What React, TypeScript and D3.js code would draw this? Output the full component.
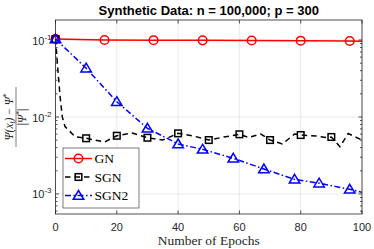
import React, { useEffect, useRef } from 'react';
import * as d3 from 'd3';

// GN: solid red, circle markers
const gnEpochs = [0, 16, 32, 48, 64, 80, 96, 100];
const gnValues = [0.103, 0.1, 0.0995, 0.099, 0.0985, 0.098, 0.097, 0.0965];
const gnMarkers = [0, 16, 32, 48, 64, 80, 96];

// SGN: dashed black, square markers
const sgnEpochs = [0, 0.6, 1.5, 2.2, 3.1, 6.4, 10, 16, 20, 25, 30, 35, 40, 45, 50, 55, 60, 63, 67, 70, 74, 78, 80, 85, 89, 90, 92.8, 95.5, 100];
const sgnValues = [0.103, 0.0502, 0.0184, 0.0101, 0.0075, 0.00554, 0.00529, 0.00473, 0.00571, 0.00619, 0.00538, 0.00502, 0.00613, 0.00566, 0.00502, 0.0055, 0.00596, 0.00542, 0.00601, 0.00502, 0.00446, 0.00601, 0.00583, 0.00566, 0.00538, 0.0055, 0.00411, 0.0061, 0.00502];
const sgnMarkers = [0, 10, 20, 30, 40, 50, 60, 70, 80, 90];

// SGN2: dash-dot blue, triangle markers
const sgn2Epochs = [0, 10, 20, 30, 40, 48, 58, 68, 78, 86, 96, 100];
const sgn2Values = [0.103, 0.043, 0.0158, 0.00713, 0.00446, 0.0038, 0.00291, 0.00211, 0.00155, 0.00138, 0.00115, 0.00105];
const sgn2Markers = [0, 10, 20, 30, 40, 48, 58, 68, 78, 86, 96];

const xTicks = [0, 20, 40, 60, 80, 100];
const yTickExps = [-1, -2, -3];
const legendLabels = ['GN', 'SGN', 'SGN2'];

const App: React.FC = () => {
  const svgRef = useRef<SVGSVGElement>(null);

  useEffect(() => {
    if (!svgRef.current) return;
    const svg = d3.select(svgRef.current);
    svg.selectAll('*').remove();

    const width = 374;
    const height = 249;
    const plot = { left: 55.5, right: 362, top: 20, bottom: 214 };
    const axisColor = '#262626';

    const x = d3.scaleLinear().domain([0, 100]).range([plot.left, plot.right]);
    const y = d3.scaleLog().domain([Math.pow(10, -3.26), Math.pow(10, -0.74)]).range([plot.bottom, plot.top]);

    svg.attr('width', width).attr('height', height);
    svg.append('rect').attr('width', width).attr('height', height).attr('fill', '#fff');

    // Grid
    const grid = svg.append('g').attr('stroke', '#e4e4e4').attr('stroke-width', 0.8);
    xTicks.forEach(t => {
      grid.append('line').attr('x1', x(t)).attr('x2', x(t)).attr('y1', plot.top).attr('y2', plot.bottom);
    });
    yTickExps.forEach(e => {
      grid.append('line').attr('x1', plot.left).attr('x2', plot.right).attr('y1', y(Math.pow(10, e))).attr('y2', y(Math.pow(10, e)));
    });

    // Ticks (inside, both sides)
    const ticks = svg.append('g').attr('stroke', axisColor).attr('stroke-width', 0.8);
    xTicks.forEach(t => {
      ticks.append('line').attr('x1', x(t)).attr('x2', x(t)).attr('y1', plot.bottom).attr('y2', plot.bottom - 3.5);
      ticks.append('line').attr('x1', x(t)).attr('x2', x(t)).attr('y1', plot.top).attr('y2', plot.top + 3.5);
    });
    for (let e = -4; e <= -1; e++) {
      for (let m = 1; m <= 9; m++) {
        const v = m * Math.pow(10, e);
        const [d0, d1] = y.domain();
        if (v < d0 || v > d1) continue;
        const len = m === 1 ? 3.5 : 2;
        ticks.append('line').attr('x1', plot.left).attr('x2', plot.left + len).attr('y1', y(v)).attr('y2', y(v));
        ticks.append('line').attr('x1', plot.right).attr('x2', plot.right - len).attr('y1', y(v)).attr('y2', y(v));
      }
    }

    // Tick labels
    const sans = 'Liberation Sans, Arial, sans-serif';
    const serif = 'Liberation Serif, Times New Roman, serif';
    xTicks.forEach(t => {
      svg.append('text')
        .attr('x', x(t)).attr('y', plot.bottom + 16.5)
        .attr('text-anchor', 'middle')
        .attr('font-family', sans).attr('font-size', 11).attr('fill', axisColor)
        .text(t);
    });
    yTickExps.forEach(e => {
      const txt = svg.append('text')
        .attr('x', plot.left - 4).attr('y', y(Math.pow(10, e)) + 4.5)
        .attr('text-anchor', 'end')
        .attr('font-family', sans).attr('font-size', 11).attr('fill', axisColor);
      txt.append('tspan').text('10');
      txt.append('tspan').attr('dy', -5).attr('font-size', 8).text(String(e));
    });

    // Lines
    const line = d3.line<[number, number]>()
      .x(d => x(d[0]))
      .y(d => y(d[1]));
    const plotArea = svg.append('g');

    const drawTriangle = (g: any, cx: number, cy: number, color: string) => {
      const s = 5;
      g.append('path')
        .attr('d', `M${cx},${cy - s} L${cx + s * 1.05},${cy + s * 0.75} L${cx - s * 1.05},${cy + s * 0.75} Z`)
        .attr('fill', 'none').attr('stroke', color).attr('stroke-width', 1.5);
    };
    const drawSquare = (g: any, cx: number, cy: number, color: string) => {
      g.append('rect').attr('x', cx - 3.3).attr('y', cy - 3.3).attr('width', 6.6).attr('height', 6.6)
        .attr('fill', 'none').attr('stroke', color).attr('stroke-width', 1.5);
    };
    const drawCircle = (g: any, cx: number, cy: number, color: string) => {
      g.append('circle').attr('cx', cx).attr('cy', cy).attr('r', 4.3)
        .attr('fill', 'none').attr('stroke', color).attr('stroke-width', 1.5);
    };

    const series = [
      { xs: gnEpochs, vs: gnValues, marks: gnMarkers, color: '#ff0000', dash: null as string | null, marker: drawCircle },
      { xs: sgnEpochs, vs: sgnValues, marks: sgnMarkers, color: '#000000', dash: '5.5,4', marker: drawSquare },
      { xs: sgn2Epochs, vs: sgn2Values, marks: sgn2Markers, color: '#0000ff', dash: '6,2.5,1.5,2.5', marker: drawTriangle },
    ];

    series.forEach(s => {
      const pts: [number, number][] = s.xs.map((e, i) => [e, s.vs[i]]);
      const p = plotArea.append('path')
        .datum(pts)
        .attr('d', line)
        .attr('fill', 'none')
        .attr('stroke', s.color)
        .attr('stroke-width', 1.5);
      if (s.dash) p.attr('stroke-dasharray', s.dash);
      const mg = plotArea.append('g');
      s.marks.forEach(m => {
        const idx = s.xs.indexOf(m);
        s.marker(mg, x(m), y(s.vs[idx]), s.color);
      });
    });

    // Box
    svg.append('rect')
      .attr('x', plot.left).attr('y', plot.top)
      .attr('width', plot.right - plot.left).attr('height', plot.bottom - plot.top)
      .attr('fill', 'none').attr('stroke', axisColor).attr('stroke-width', 0.8);

    // Legend
    const legend = svg.append('g');
    const lg = { x: 63, y: 148, w: 76, h: 60 };
    legend.append('rect')
      .attr('x', lg.x).attr('y', lg.y).attr('width', lg.w).attr('height', lg.h)
      .attr('fill', '#fff').attr('stroke', axisColor).attr('stroke-width', 0.6);
    legendLabels.forEach((label, i) => {
      const s = series[i];
      const ly = 158.5 + i * 18.5;
      const l = legend.append('line')
        .attr('x1', 65).attr('x2', 92).attr('y1', ly).attr('y2', ly)
        .attr('stroke', s.color).attr('stroke-width', 1.5);
      if (s.dash) l.attr('stroke-dasharray', s.dash);
      s.marker(legend, 78.5, ly, s.color);
      legend.append('text')
        .attr('x', 94.5).attr('y', ly + 4.5)
        .attr('font-family', serif).attr('font-size', 13.5)
        .attr('fill', '#000')
        .text(label);
    });

    // Title
    svg.append('text')
      .attr('x', (plot.left + plot.right) / 2).attr('y', 15)
      .attr('text-anchor', 'middle')
      .attr('font-family', sans).attr('font-weight', 'bold').attr('font-size', 13)
      .attr('fill', '#000')
      .text('Synthetic Data: n = 100,000; p = 300');

    // X label
    svg.append('text')
      .attr('x', (plot.left + plot.right) / 2).attr('y', 245)
      .attr('text-anchor', 'middle')
      .attr('font-family', serif).attr('font-size', 13.5)
      .attr('fill', axisColor)
      .text('Number of Epochs');

    // Y label: fraction
    const yl = svg.append('g').attr('transform', 'translate(16,117) rotate(-90)');
    const num = yl.append('text')
      .attr('x', 0).attr('y', -3)
      .attr('text-anchor', 'middle')
      .attr('font-family', serif).attr('font-size', 11.5).attr('font-style', 'italic')
      .attr('fill', axisColor);
    num.append('tspan').text('Ψ(x');
    num.append('tspan').attr('font-size', 7.5).attr('dy', 2).text('t');
    num.append('tspan').attr('dy', -2).text(')');
    num.append('tspan').attr('font-style', 'normal').text(' − ');
    num.append('tspan').text('Ψ');
    num.append('tspan').attr('font-size', 7.5).attr('dy', -4).attr('font-style', 'normal').text('*');
    yl.append('line')
      .attr('x1', -30).attr('x2', 30).attr('y1', 0).attr('y2', 0)
      .attr('stroke', axisColor).attr('stroke-width', 0.6);
    const den = yl.append('text')
      .attr('x', 0).attr('y', 10)
      .attr('text-anchor', 'middle')
      .attr('font-family', serif).attr('font-size', 11.5).attr('font-style', 'italic')
      .attr('fill', axisColor);
    den.append('tspan').attr('font-style', 'normal').text('|');
    den.append('tspan').text('Ψ');
    den.append('tspan').attr('font-size', 7.5).attr('dy', -4).attr('font-style', 'normal').text('*');
    den.append('tspan').attr('dy', 4).attr('font-style', 'normal').text('|');
  }, []);

  return (
    <svg ref={svgRef} style={{ position: 'absolute', left: 0, top: 0 }} width={374} height={249} />
  );
};

export default App;
